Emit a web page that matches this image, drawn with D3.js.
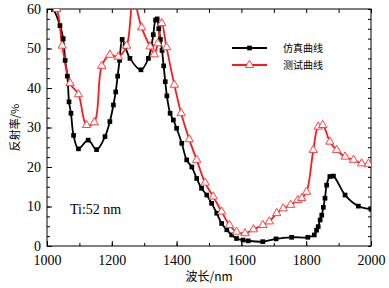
<!DOCTYPE html>
<html>
<head>
<meta charset="utf-8">
<script src="https://cdn.jsdelivr.net/npm/d3@7"></script>
<style>
  body { margin: 0; background: #fff; }
  text { fill: #000; }
</style>
</head>
<body>
<div id="chart"></div>
<script>
// simulated curve (black squares)
var simX = [1005, 1020, 1040, 1050, 1056, 1063, 1068, 1074, 1082, 1097, 1127, 1153, 1179, 1194, 1205, 1212, 1218, 1224, 1232, 1241, 1256, 1290, 1313, 1322, 1328, 1335, 1340, 1345, 1350, 1355, 1360, 1365, 1370, 1380, 1390, 1400, 1416, 1431, 1447, 1462, 1477, 1493, 1508, 1524, 1539, 1555, 1570, 1585, 1605, 1621, 1666, 1707, 1755, 1805, 1825, 1832, 1837, 1843, 1848, 1853, 1858, 1863, 1873, 1884, 1920, 1961, 2000];
var simY = [60.5, 59.8, 55.8, 52.5, 47, 43, 36.5, 33.6, 28, 24.6, 26.8, 24.4, 27.7, 31.5, 35.7, 39, 43, 47, 52.3, 50.5, 47.5, 44.6, 47.5, 50.5, 53.5, 57.2, 57.5, 55, 52.3, 49.5, 45.6, 41.6, 38, 33.6, 31.9, 29.8, 26, 21.8, 20, 17.1, 14.6, 12.9, 10.8, 8.3, 5.7, 4.1, 2.8, 1.9, 1.5, 1.3, 1.1, 1.8, 2.2, 2.2, 2.8, 4, 4.9, 6.6, 7.8, 9.8, 12.1, 15.4, 17.6, 17.7, 12.9, 10.1, 9.3];

// measured curve (red triangles)
var testX = [1010, 1030, 1047, 1071, 1097, 1122, 1146, 1169, 1194, 1220, 1246, 1266, 1292, 1318, 1331, 1342, 1354, 1369, 1393, 1414, 1439, 1462, 1488, 1513, 1539, 1563, 1585, 1611, 1637, 1666, 1686, 1709, 1729, 1752, 1774, 1786, 1801, 1822, 1837, 1851, 1873, 1894, 1920, 1946, 1971, 1992];
var testY = [62, 60, 50.7, 41.2, 38.4, 30.6, 31.3, 45.6, 48.4, 47.9, 50.7, 62.5, 55.3, 50.5, 48.5, 51.3, 56.4, 50.3, 40.8, 33.6, 27, 21.8, 16, 12.5, 8.7, 5.3, 3.6, 3.2, 4.2, 5.3, 6.2, 8.3, 9.5, 10.4, 11.6, 12.1, 13.7, 24.3, 30.2, 30.6, 26.4, 24.3, 22.6, 21.8, 20.9, 20.8];

var xTicks = [1000, 1200, 1400, 1600, 1800, 2000];
var yTicks = [0, 10, 20, 30, 40, 50, 60];
var legendNames = ["仿真曲线", "测试曲线"];

var W = 389, H = 288;
var margin = {top: 9, right: 18, bottom: 42, left: 47};
var width = W - margin.left - margin.right;
var height = H - margin.top - margin.bottom;

var svg = d3.select("#chart").append("svg")
	.attr("width", W)
	.attr("height", H);

var g = svg.append("g")
	.attr("transform", "translate(" + margin.left + "," + margin.top + ")");

var x = d3.scaleLinear().domain([1000, 2000]).range([0, width]);
var y = d3.scaleLinear().domain([0, 60]).range([height, 0]);

g.append("clipPath").attr("id", "clip")
	.append("rect").attr("width", width).attr("height", height);

// axes, ticks pointing inward
function styleAxis(sel) {
	sel.select(".domain").remove();
	sel.selectAll("line").attr("stroke", "#000");
	sel.selectAll("text")
		.style("font-family", "'Liberation Serif', 'Times New Roman', serif")
		.style("font-size", "14px");
}

g.append("g")
	.attr("transform", "translate(0," + height + ")")
	.call(d3.axisBottom(x).tickValues(d3.range(1000, 2001, 100)).tickSize(-3).tickFormat(""))
	.call(styleAxis);
g.append("g")
	.attr("transform", "translate(0," + height + ")")
	.call(d3.axisBottom(x).tickValues(xTicks).tickSize(-5).tickPadding(9).tickFormat(d3.format("d")))
	.call(styleAxis);
g.append("g")
	.call(d3.axisTop(x).tickValues(d3.range(1000, 2001, 100)).tickSize(-4).tickFormat(""))
	.call(styleAxis);

g.append("g")
	.call(d3.axisLeft(y).tickValues(d3.range(0, 60.1, 2.5)).tickSize(-3).tickFormat(""))
	.call(styleAxis);
g.append("g")
	.call(d3.axisLeft(y).tickValues(yTicks).tickSize(-5).tickPadding(6))
	.call(styleAxis);
g.append("g")
	.attr("transform", "translate(" + width + ",0)")
	.call(d3.axisRight(y).tickValues(d3.range(0, 60.1, 2.5)).tickSize(-3).tickFormat(""))
	.call(styleAxis);

g.append("rect")
	.attr("width", width)
	.attr("height", height)
	.attr("fill", "none")
	.attr("stroke", "#000")
	.attr("stroke-width", 1);

var line = d3.line()
	.x(function (d) { return x(d[0]); })
	.y(function (d) { return y(d[1]); })
	.curve(d3.curveCatmullRom.alpha(0.5));

var simData = d3.zip(simX, simY);
var testData = d3.zip(testX, testY);

var plot = g.append("g").attr("clip-path", "url(#clip)");

plot.append("path")
	.attr("d", line(simData))
	.attr("fill", "none")
	.attr("stroke", "#000")
	.attr("stroke-width", 1.8);

plot.append("path")
	.attr("d", line(testData))
	.attr("fill", "none")
	.attr("stroke", "#ff1a1a")
	.attr("stroke-width", 1.8);

var square = d3.symbol().type(d3.symbolSquare).size(22);
var triangle = d3.symbol().type(d3.symbolTriangle).size(30);

plot.selectAll(".sq").data(simData).enter().append("path")
	.attr("transform", function (d) { return "translate(" + x(d[0]) + "," + y(d[1]) + ")"; })
	.attr("d", square)
	.attr("fill", "#000");

plot.selectAll(".tri").data(testData).enter().append("path")
	.attr("transform", function (d) { return "translate(" + x(d[0]) + "," + y(d[1]) + ")"; })
	.attr("d", triangle)
	.attr("fill", "#fff")
	.attr("stroke", "#ff4040")
	.attr("stroke-width", 1);

// legend
var legend = svg.append("g").attr("transform", "translate(232,48)");
[0, 1].forEach(function (i) {
	var row = legend.append("g").attr("transform", "translate(0," + (i * 17) + ")");
	row.append("line")
		.attr("x1", 0).attr("x2", 35)
		.attr("stroke", i === 0 ? "#000" : "#ff1a1a")
		.attr("stroke-width", 1.8);
	row.append("path")
		.attr("transform", "translate(17.5,0)")
		.attr("d", i === 0 ? square : triangle)
		.attr("fill", i === 0 ? "#000" : "#fff")
		.attr("stroke", i === 0 ? "none" : "#ff4040");
	row.append("text")
		.attr("x", 51)
		.attr("dy", "0.35em")
		.style("font-family", "'Noto Sans CJK SC', sans-serif")
		.style("font-size", "10px")
		.text(legendNames[i]);
});

// annotation
g.append("text")
	.attr("x", x(1150))
	.attr("y", y(9.3))
	.attr("dy", "0.35em")
	.attr("text-anchor", "middle")
	.style("font-family", "'Liberation Serif', 'Times New Roman', serif")
	.style("font-size", "14px")
	.text("Ti:52 nm");

// axis titles
svg.append("text")
	.attr("x", margin.left + width / 2)
	.attr("y", 281)
	.attr("text-anchor", "middle")
	.style("font-family", "'Noto Sans CJK SC', sans-serif")
	.style("font-size", "12px")
	.text("波长/nm");

svg.append("text")
	.attr("transform", "translate(15," + (margin.top + height / 2) + ") rotate(-90)")
	.attr("dy", "0.35em")
	.attr("text-anchor", "middle")
	.style("font-family", "'Noto Sans CJK SC', sans-serif")
	.style("font-size", "11px")
	.text("反射率/%");
</script>
</body>
</html>
